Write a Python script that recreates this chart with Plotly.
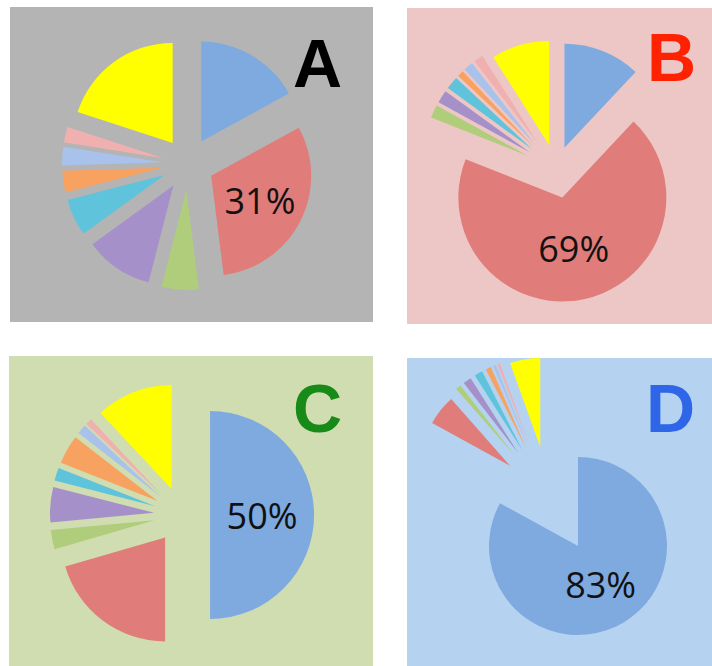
import plotly.graph_objects as go

# ---------------- data ----------------
categories = ["S1", "S2", "S3", "S4", "S5", "S6", "S7", "S8", "S9"]
values_A = [17, 31, 6, 11, 6, 3.5, 3, 2.5, 20]
values_B = [12, 69, 2, 2, 2, 1, 1.5, 1.5, 9]
values_C = [50, 20.5, 3, 5.5, 2, 4.5, 1.5, 1, 12]
values_D = [83, 5.5, 1, 1.5, 1.5, 1, 0.5, 0.5, 5.5]
panel_letters = ["A", "B", "C", "D"]

# ---------------- styles ----------------
W, H = 712, 666
slice_colors = ["#7eaae0", "#e07c79", "#b0cd7c", "#a590c9", "#5fc3db",
                "#f8a261", "#a9c2eb", "#f0b0b0", "#ffff00"]

panels = [
    dict(values=values_A, letter="A", bg="#b4b4b4", rect=(10, 7, 373, 322),
         center=(188, 164), r=100, pull=[0.26] * 9,
         lcolor="#000000", lpos=(317, 63)),
    dict(values=values_B, letter="B", bg="#edc7c6", rect=(407, 8, 712, 324),
         center=(556, 169), r=104, pull=[0.22, 0.28, 0.3, 0.3, 0.3, 0.3, 0.3, 0.3, 0.24],
         lcolor="#ff2200", lpos=(671, 57)),
    dict(values=values_C, letter="C", bg="#d0ddb1", rect=(9, 356, 373, 666),
         center=(182, 515), r=104, pull=[0.27] * 9,
         lcolor="#178a17", lpos=(317, 408)),
    dict(values=values_D, letter="D", bg="#b5d3f0", rect=(407, 358, 712, 666),
         center=(549, 497), r=89, pull=[0.64, 0.56, 0.6, 0.6, 0.6, 0.6, 0.6, 0.6, 0.57],
         lcolor="#2f66e8", lpos=(670, 408)),
]


def px_x(x):
    return x / W


def px_y(y):
    return 1 - y / H


fig = go.Figure()
shapes = []
annotations = []
for p in panels:
    x0, y0, x1, y1 = p["rect"]
    shapes.append(dict(type="rect", xref="paper", yref="paper",
                       x0=px_x(x0), x1=px_x(x1), y0=px_y(y1), y1=px_y(y0),
                       fillcolor=p["bg"], line=dict(width=0), layer="below"))
    cx, cy = p["center"]
    half = p["r"] * (1 + max(p["pull"]))
    vals = p["values"]
    big = vals.index(max(vals))
    tt = ["%{percent:.0%}" if i == big else "" for i in range(len(vals))]
    fig.add_trace(go.Pie(
        labels=categories, values=vals, sort=False, direction="clockwise",
        rotation=0, pull=p["pull"],
        marker=dict(colors=slice_colors, line=dict(width=0)),
        texttemplate=tt, textposition="inside", insidetextorientation="horizontal",
        textfont=dict(family="Open Sans", size=36, color="#111111"),
        domain=dict(x=[px_x(cx - half), px_x(cx + half)],
                    y=[px_y(cy + half), px_y(cy - half)]),
        showlegend=False, hoverinfo="label+percent",
    ))
    lx, ly = p["lpos"]
    annotations.append(dict(text=p["letter"], x=px_x(lx), y=px_y(ly),
                            xref="paper", yref="paper", showarrow=False,
                            xanchor="center", yanchor="middle",
                            font=dict(family="Liberation Sans", size=68,
                                      color=p["lcolor"], weight="bold")))

fig.update_layout(width=W, height=H, margin=dict(l=0, r=0, t=0, b=0, pad=0),
                  paper_bgcolor="#ffffff", plot_bgcolor="#ffffff",
                  shapes=shapes, annotations=annotations, showlegend=False)
fig.write_html("out.html")
